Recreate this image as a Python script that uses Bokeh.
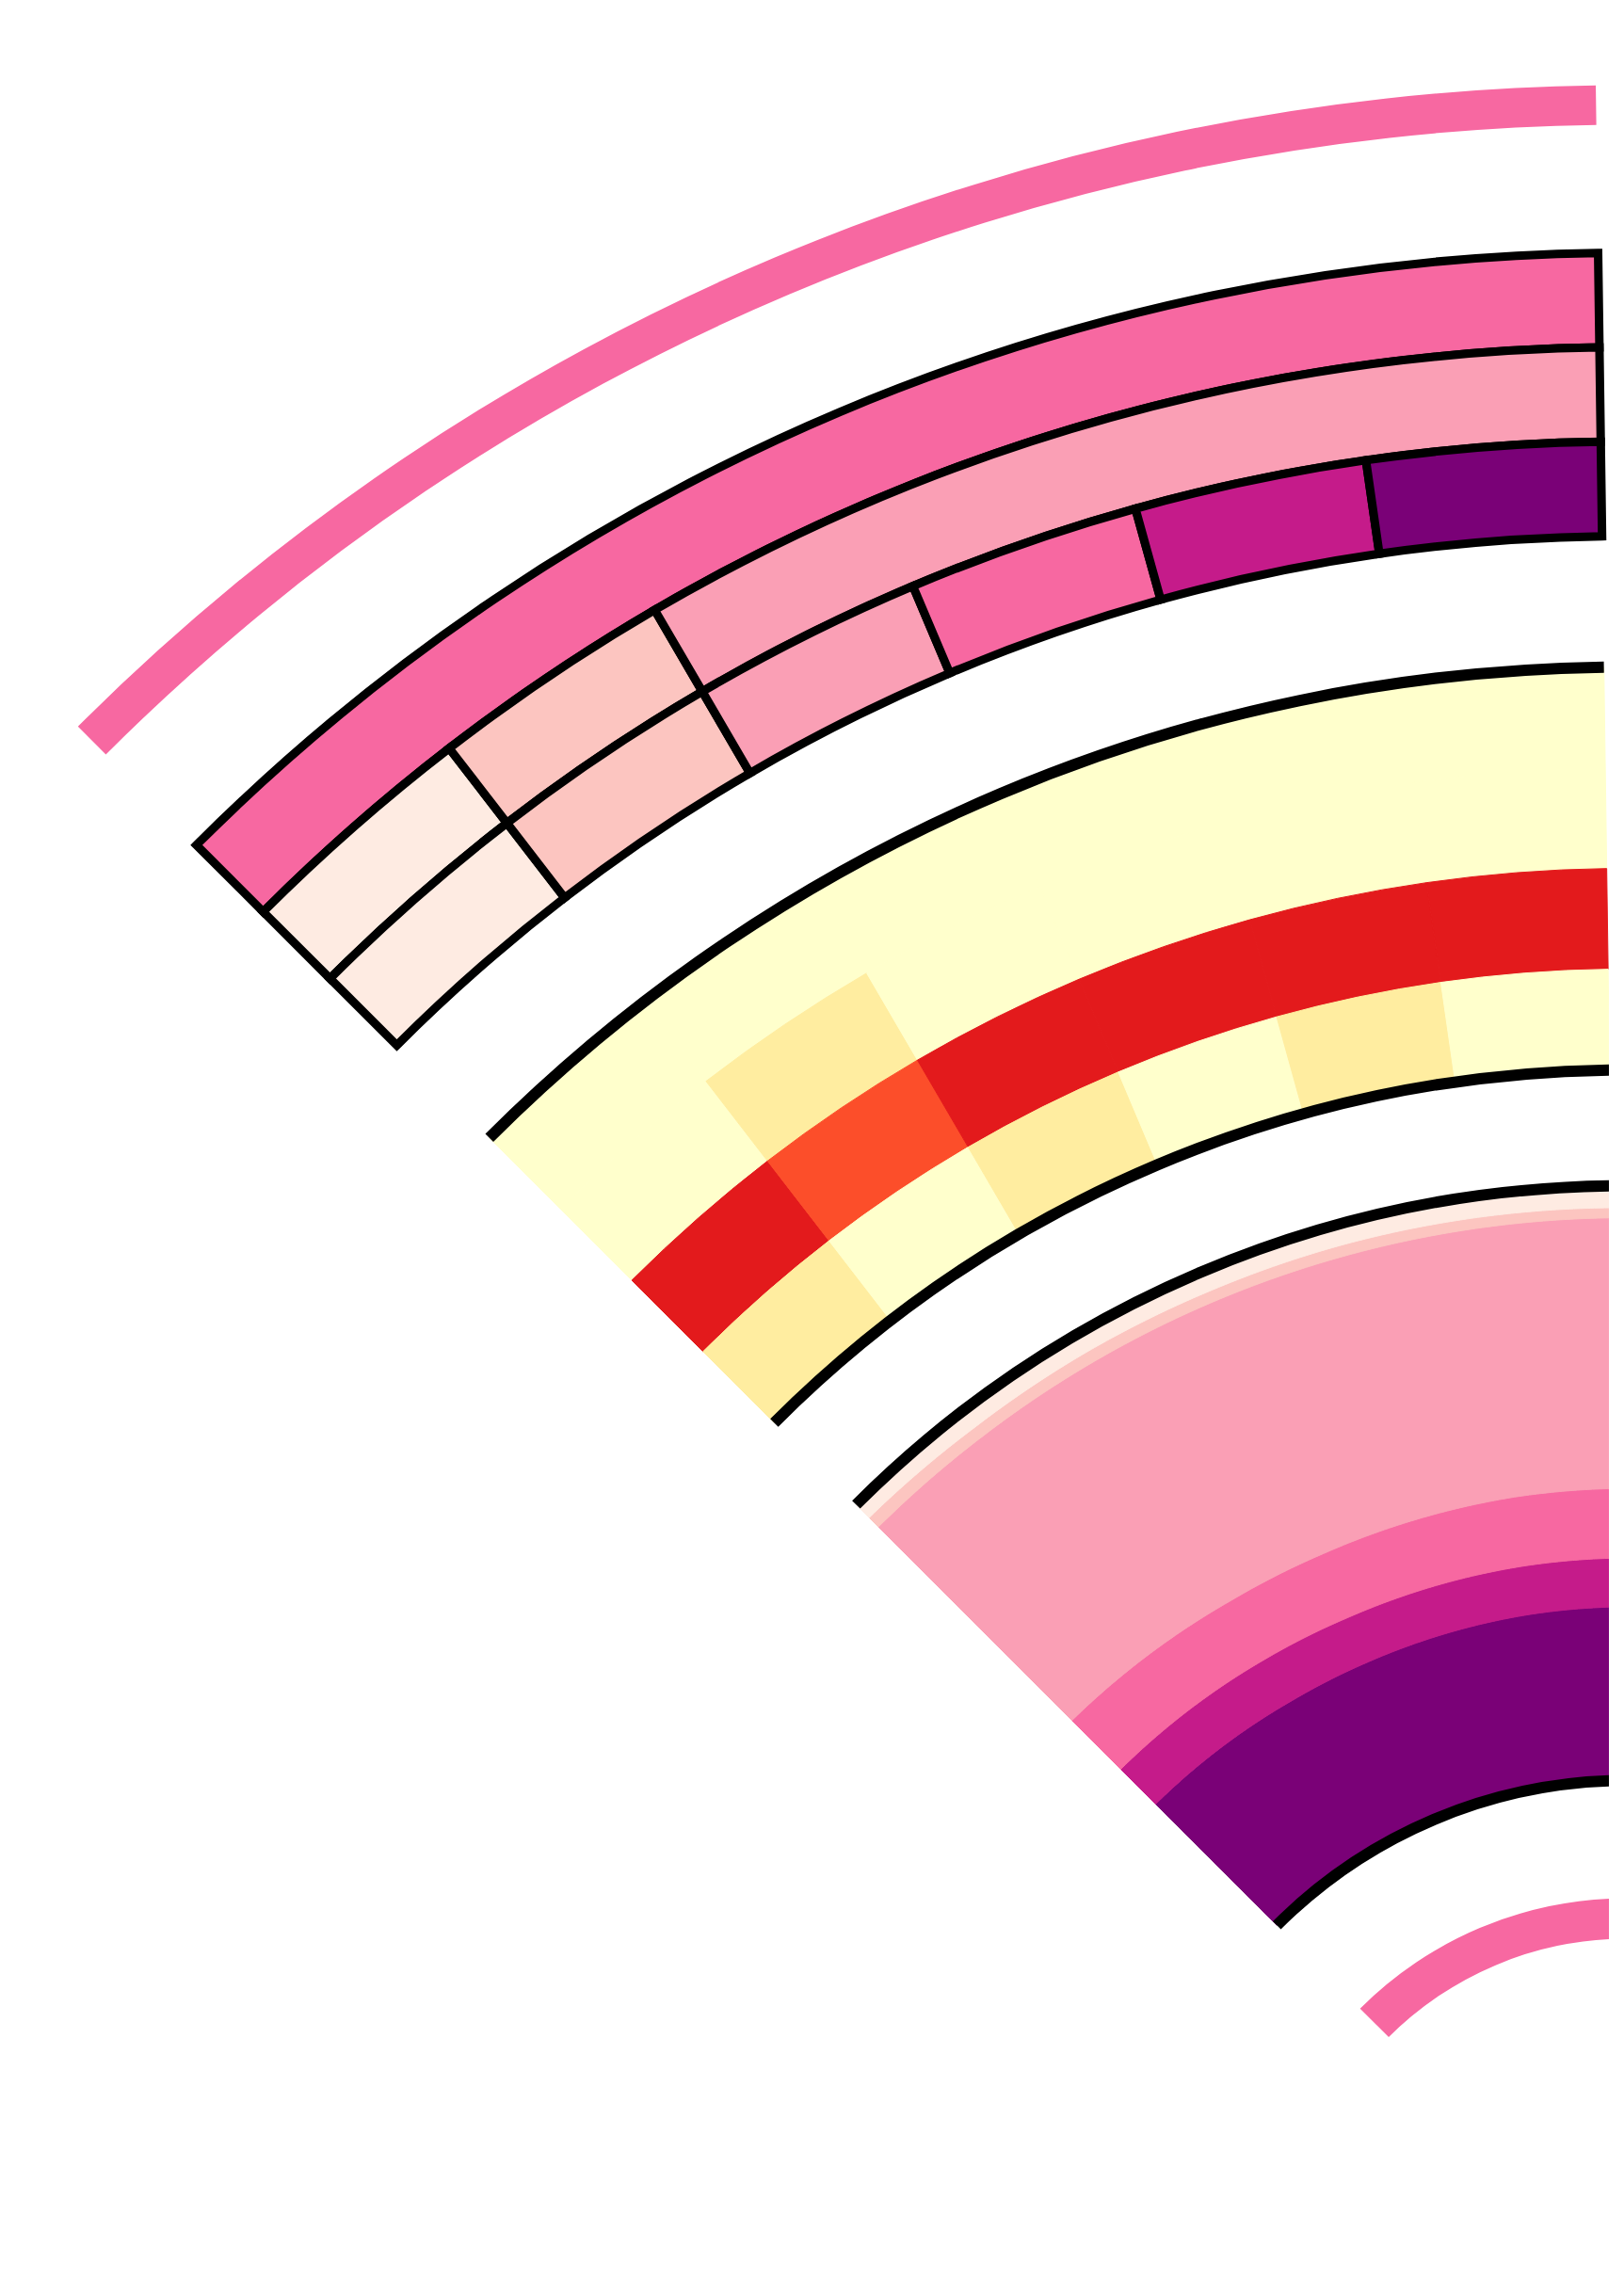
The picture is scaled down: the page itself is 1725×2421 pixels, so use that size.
import numpy as np
from bokeh.plotting import figure
from bokeh.models import Range1d, ColumnDataSource
from bokeh.embed import file_html
from bokeh.resources import INLINE
from bokeh.palettes import RdPu6, YlOrRd9

# ---------------- data ----------------
columns = ["S1", "S2", "S3", "S4", "S5", "S6"]

# track 2: RdPu levels (0 = lightest .. 5 = darkest), rows from outer to inner
heat_a_rows = [
    [3, 3, 3, 3, 3, 3],
    [0, 1, 2, 2, 2, 2],
    [0, 1, 2, 3, 4, 5],
]

# track 3: YlOrRd levels (0 = lightest .. 8 = darkest), rows from outer to inner
heat_b_rows = [
    [0, 0, 0, 0, 0, 0],
    [0, 1, 0, 0, 0, 0],
    [6, 5, 6, 6, 6, 6],
    [1, 0, 1, 0, 1, 0],
]

# track 4: stacked shares (%) read at the 7 column edges, listed inner -> outer
stack_names = ["L6", "L5", "L4", "L3", "L2", "L1"]
stack_l6 = [28.8, 28.7, 28.6, 28.7, 28.9, 29.1, 29.2]
stack_l5 = [8.3, 8.3, 8.3, 8.2, 8.2, 8.2, 8.2]
stack_l4 = [11.6, 11.5, 11.4, 11.5, 11.6, 11.7, 11.7]
stack_l3 = [46.0, 46.1, 46.3, 46.2, 45.9, 45.6, 45.5]
stack_l2 = [2.2, 2.0, 2.0, 1.9, 1.9, 1.8, 1.7]
stack_l1 = [3.1, 3.4, 3.4, 3.5, 3.5, 3.6, 3.7]

# ---------------- layout ----------------
W, H = 1709, 2405
CX, CY = 1735.0, 2424.0          # page pixel of the sector centre
A0, A1 = 135.0, 90.8             # sector spans A1 .. A0 degrees
NCOL = len(columns)
CW = (A0 - A1) / NCOL

rdpu = list(RdPu6[::-1])
ylorrd = list(YlOrRd9[::-1])
stack_colors = [rdpu[5], rdpu[4], rdpu[3], rdpu[2], rdpu[1], rdpu[0]]

p = figure(width=W, height=H,
           x_range=Range1d(8 - CX, 8 + W - CX),
           y_range=Range1d(CY - 8 - H, CY - 8),
           x_axis_type=None, y_axis_type=None,
           output_backend="svg", toolbar_location=None, min_border=0)
p.grid.visible = False
p.outline_line_color = None
p.background_fill_color = "white"


def rad(d):
    return np.deg2rad(d)


# outer thin ring
p.annular_wedge(x=0, y=0, inner_radius=2284, outer_radius=2326,
                start_angle=rad(A1), end_angle=rad(A0),
                fill_color=rdpu[3], line_color=None)

# track 2: heatmap with merged runs outlined
edges_a = np.linspace(2148, 1847, len(heat_a_rows) + 1)
src = dict(ri=[], ro=[], sa=[], ea=[], c=[])
for i, row in enumerate(heat_a_rows):
    j = 0
    while j < NCOL:
        k = j
        while k + 1 < NCOL and row[k + 1] == row[j]:
            k += 1
        src["ri"].append(edges_a[i + 1])
        src["ro"].append(edges_a[i])
        src["sa"].append(rad(A0 - (k + 1) * CW))
        src["ea"].append(rad(A0 - j * CW))
        src["c"].append(rdpu[row[j]])
        j = k + 1
p.annular_wedge(x=0, y=0, inner_radius="ri", outer_radius="ro",
                start_angle="sa", end_angle="ea", fill_color="c",
                line_color="black", line_width=9, line_join="miter",
                source=ColumnDataSource(src))

# track 3: heatmap without cell borders
edges_b = np.linspace(1708, 1280, len(heat_b_rows) + 1)
src = dict(ri=[], ro=[], sa=[], ea=[], c=[])
for i, row in enumerate(heat_b_rows):
    for j, v in enumerate(row):
        src["ri"].append(edges_b[i + 1])
        src["ro"].append(edges_b[i])
        src["sa"].append(rad(A0 - (j + 1) * CW))
        src["ea"].append(rad(A0 - j * CW))
        src["c"].append(ylorrd[v])
p.annular_wedge(x=0, y=0, inner_radius="ri", outer_radius="ro",
                start_angle="sa", end_angle="ea", fill_color="c",
                line_color="c", line_width=1, source=ColumnDataSource(src))
p.arc(x=0, y=0, radius=[1708, 1280], start_angle=rad(A1), end_angle=rad(A0),
      line_color="black", line_width=12)

# track 4: 100% stacked area
R_IN, R_OUT = 525.0, 1157.0
edge_angles = np.array([A0 - i * CW for i in range(NCOL + 1)])
layers = [stack_l6, stack_l5, stack_l4, stack_l3, stack_l2, stack_l1]
samp = np.linspace(A0, A1, 240)
cum = np.zeros(len(edge_angles))
xs, ys, cs = [], [], []
for lay, col in zip(layers, stack_colors):
    lay = np.array(lay, dtype=float)
    lo = cum.copy()
    hi = cum + lay
    cum = hi
    lo_s = np.interp(samp, edge_angles[::-1], lo[::-1])
    hi_s = np.interp(samp, edge_angles[::-1], hi[::-1])
    r_lo = R_IN + (R_OUT - R_IN) * lo_s / 100.0
    r_hi = R_IN + (R_OUT - R_IN) * hi_s / 100.0
    th = rad(samp)
    px = np.concatenate([r_hi * np.cos(th), (r_lo * np.cos(th))[::-1]])
    py = np.concatenate([r_hi * np.sin(th), (r_lo * np.sin(th))[::-1]])
    xs.append(list(px))
    ys.append(list(py))
    cs.append(col)
p.patches(xs="xs", ys="ys", fill_color="c", line_color="c", line_width=1,
          source=ColumnDataSource(dict(xs=xs, ys=ys, c=cs)))
p.arc(x=0, y=0, radius=[R_OUT, R_IN], start_angle=rad(A1), end_angle=rad(A0),
      line_color="black", line_width=12)

# inner thin ring
p.annular_wedge(x=0, y=0, inner_radius=357, outer_radius=400,
                start_angle=rad(A1), end_angle=rad(A0),
                fill_color=rdpu[3], line_color=None)

open("out.html", "w").write(file_html(p, INLINE))
